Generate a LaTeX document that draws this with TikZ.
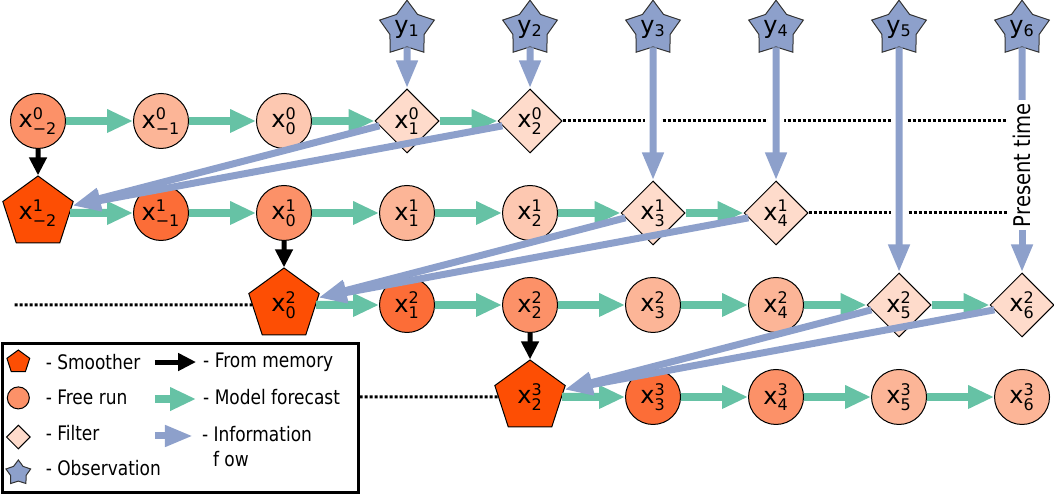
\documentclass[tikz,border=0pt]{standalone}
\usepackage{fontspec}
\setmainfont{DejaVu Sans}
\newfontfamily\narrowfont{DejaVu Sans}[FakeStretch=0.85]
\usetikzlibrary{shapes.geometric,arrows.meta}

\definecolor{smoothc}{HTML}{FD4E04}
\definecolor{runa}{HTML}{FC6D37}
\definecolor{runb}{HTML}{FC9168}
\definecolor{runc}{HTML}{FCB597}
\definecolor{rund}{HTML}{FDC8B1}
\definecolor{filterc}{HTML}{FEDBCB}
\definecolor{obsc}{HTML}{8DA0CB}
\definecolor{fcc}{HTML}{66C2A5}

\newcommand{\sv}[1]{\mbox{\fontsize{8}{8}\selectfont #1}}
\newcommand{\xl}[2]{x$^{\sv{#1}}_{\sv{#2}}$}
\newcommand{\yl}[1]{y$_{\sv{#1}}$}

\begin{document}
\begin{tikzpicture}[x=61.5pt,y=46pt,
    every node/.style={font=\fontsize{12}{14}\selectfont},
    run/.style={shape=circle,draw=black,line width=0.5pt,minimum size=27.5pt,inner sep=0pt},
    smooth/.style={shape=regular polygon,regular polygon sides=5,draw=black,line width=0.5pt,fill=smoothc,minimum size=37pt,inner sep=0pt},
    filt/.style={shape=diamond,aspect=1,draw=black,line width=0.5pt,fill=filterc,minimum size=32pt,inner sep=0pt},
    obs/.style={shape=star,star points=5,star point ratio=1.6,draw=black!80,line width=0.5pt,fill=obsc,minimum size=28pt,inner sep=0pt},
    fc/.style={color=fcc,line width=4pt,-{Triangle[width=11pt,length=13pt]}},
    info/.style={color=obsc,line width=3.5pt,-{Triangle[width=10pt,length=14pt]}},
    mem/.style={color=black,line width=2.5pt,-{Triangle[width=8.5pt,length=9pt]}},
    gap/.style={color=white,line width=8pt,shorten <=4pt,shorten >=6pt},
    dots/.style={color=black,line width=1.5pt,dash pattern=on 1.5pt off 1pt},
    key/.style={font=\narrowfont\fontsize{10}{12}\selectfont,anchor=west,inner sep=0pt}]
    \useasboundingbox (-0.309,-1.054) rectangle (8.260,4.315);

    % observations
    \node[obs] (y1) at (3,4) {\yl{1}};
    \node[obs] (y2) at (4,4) {\yl{2}};
    \node[obs] (y3) at (5,4) {\yl{3}};
    \node[obs] (y4) at (6,4) {\yl{4}};
    \node[obs] (y5) at (7,4) {\yl{5}};
    \node[obs] (y6) at (8,4) {\yl{6}};

    % first pass
    \node[run,fill=runb] (x0m2) at (0,3) {\xl{0}{−2}};
    \node[run,fill=runc] (x0m1) at (1,3) {\xl{0}{−1}};
    \node[run,fill=rund] (x00) at (2,3) {\xl{0}{0}};
    \node[filt] (x01) at (3,3) {\xl{0}{1}};
    \node[filt] (x02) at (4,3) {\xl{0}{2}};

    % second pass
    \node[smooth] (x1m2) at (0,2) {\xl{1}{−2}};
    \node[run,fill=runa] (x1m1) at (1,2) {\xl{1}{−1}};
    \node[run,fill=runb] (x10) at (2,2) {\xl{1}{0}};
    \node[run,fill=runc] (x11) at (3,2) {\xl{1}{1}};
    \node[run,fill=rund] (x12) at (4,2) {\xl{1}{2}};
    \node[filt] (x13) at (5,2) {\xl{1}{3}};
    \node[filt] (x14) at (6,2) {\xl{1}{4}};

    % third pass
    \node[smooth] (x20) at (2,1) {\xl{2}{0}};
    \node[run,fill=runa] (x21) at (3,1) {\xl{2}{1}};
    \node[run,fill=runb] (x22) at (4,1) {\xl{2}{2}};
    \node[run,fill=runc] (x23) at (5,1) {\xl{2}{3}};
    \node[run,fill=runc] (x24) at (6,1) {\xl{2}{4}};
    \node[filt] (x25) at (7,1) {\xl{2}{5}};
    \node[filt] (x26) at (8,1) {\xl{2}{6}};

    % fourth pass
    \node[smooth] (x32) at (4,0) {\xl{3}{2}};
    \node[run,fill=runa] (x33) at (5,0) {\xl{3}{3}};
    \node[run,fill=runb] (x34) at (6,0) {\xl{3}{4}};
    \node[run,fill=runc] (x35) at (7,0) {\xl{3}{5}};
    \node[run,fill=runc] (x36) at (8,0) {\xl{3}{6}};

    \node[rotate=90,font=\narrowfont\fontsize{11.5}{12}\selectfont,inner sep=1.5pt] (now) at (8,2.52) {Present time};

    % legend
    \node[draw=black,line width=1.5pt,minimum width=178pt,minimum height=74.5pt,inner sep=0pt] (legend) at (1.155,-0.223) {};
    \node[smooth,minimum size=12pt] (ksm) at (-0.16,0.38) {};
    \node[run,fill=runb,minimum size=11pt] (kfr) at (-0.16,-0.01) {};
    \node[filt,minimum size=12pt] (kfi) at (-0.16,-0.435) {};
    \node[obs,minimum size=13pt] (kob) at (-0.16,-0.826) {};
    \node[key] (tsm) at (0.06,0.38) {- Smoother};
    \node[key] (tfr) at (0.06,0) {- Free run};
    \node[key] (tfi) at (0.06,-0.39) {- Filter};
    \node[key] (tob) at (0.06,-0.77) {- Observation};
    \node[key] (tme) at (1.34,0.38) {- From memory};
    \node[key] (tmf) at (1.34,0) {- Model forecast};
    \node[key] (tin) at (1.33,-0.40) {- Information};
    \node[key] (tfl) at (1.42,-0.67) {f ow};
    \coordinate (ma) at (0.95,0.38);
    \coordinate (mb) at (1.285,0.38);
    \coordinate (fa) at (0.95,-0.022);
    \coordinate (fb) at (1.285,-0.022);
    \coordinate (ia) at (0.95,-0.424);
    \coordinate (ib) at (1.26,-0.424);
    \path[mem](ma) edge (mb);
    \path[fc](fa) edge (fb);
    \path[info](ia) edge (ib);

    % dotted lines
    \coordinate (e0) at (7.88,3);
    \coordinate (e1) at (7.88,2);
    \coordinate (b2) at (-0.19,1);
    \path[dots](x02) edge (e0);
    \path[dots](x14) edge (e1);
    \path[dots](b2) edge (x20);
    \path[dots](legend.east |- x32) edge (x32);
    \path[gap](y3) edge (x13);
    \path[gap](y4) edge (x14);
    \path[gap](y5) edge (x25);

    % model forecast
    \path[fc](x0m2) edge (x0m1);
    \path[fc](x0m1) edge (x00);
    \path[fc](x00) edge (x01);
    \path[fc](x01) edge (x02);
    \path[fc](x1m2) edge (x1m1);
    \path[fc](x1m1) edge (x10);
    \path[fc](x10) edge (x11);
    \path[fc](x11) edge (x12);
    \path[fc](x12) edge (x13);
    \path[fc](x13) edge (x14);
    \path[fc](x20) edge (x21);
    \path[fc](x21) edge (x22);
    \path[fc](x22) edge (x23);
    \path[fc](x23) edge (x24);
    \path[fc](x24) edge (x25);
    \path[fc](x25) edge (x26);
    \path[fc](x32) edge (x33);
    \path[fc](x33) edge (x34);
    \path[fc](x34) edge (x35);
    \path[fc](x35) edge (x36);

    % from memory
    \path[mem](x0m2) edge (x1m2);
    \path[mem](x10) edge (x20);
    \path[mem](x22) edge (x32);

    % information flow
    \path[info](y1) edge (x01);
    \path[info](y2) edge (x02);
    \path[info](y3) edge (x13);
    \path[info](y4) edge (x14);
    \path[info](y5) edge (x25);
    \path[info,-](y6) edge (now.east);
    \path[info](now.west) edge (x26);
    \path[info](x01.190) edge (x1m2.12);
    \path[info](x02.190) edge (x1m2.12);
    \path[info](x13.190) edge (x20.12);
    \path[info](x14.190) edge (x20.12);
    \path[info](x25.190) edge (x32.12);
    \path[info](x26.190) edge (x32.12);
\end{tikzpicture}
\end{document}
